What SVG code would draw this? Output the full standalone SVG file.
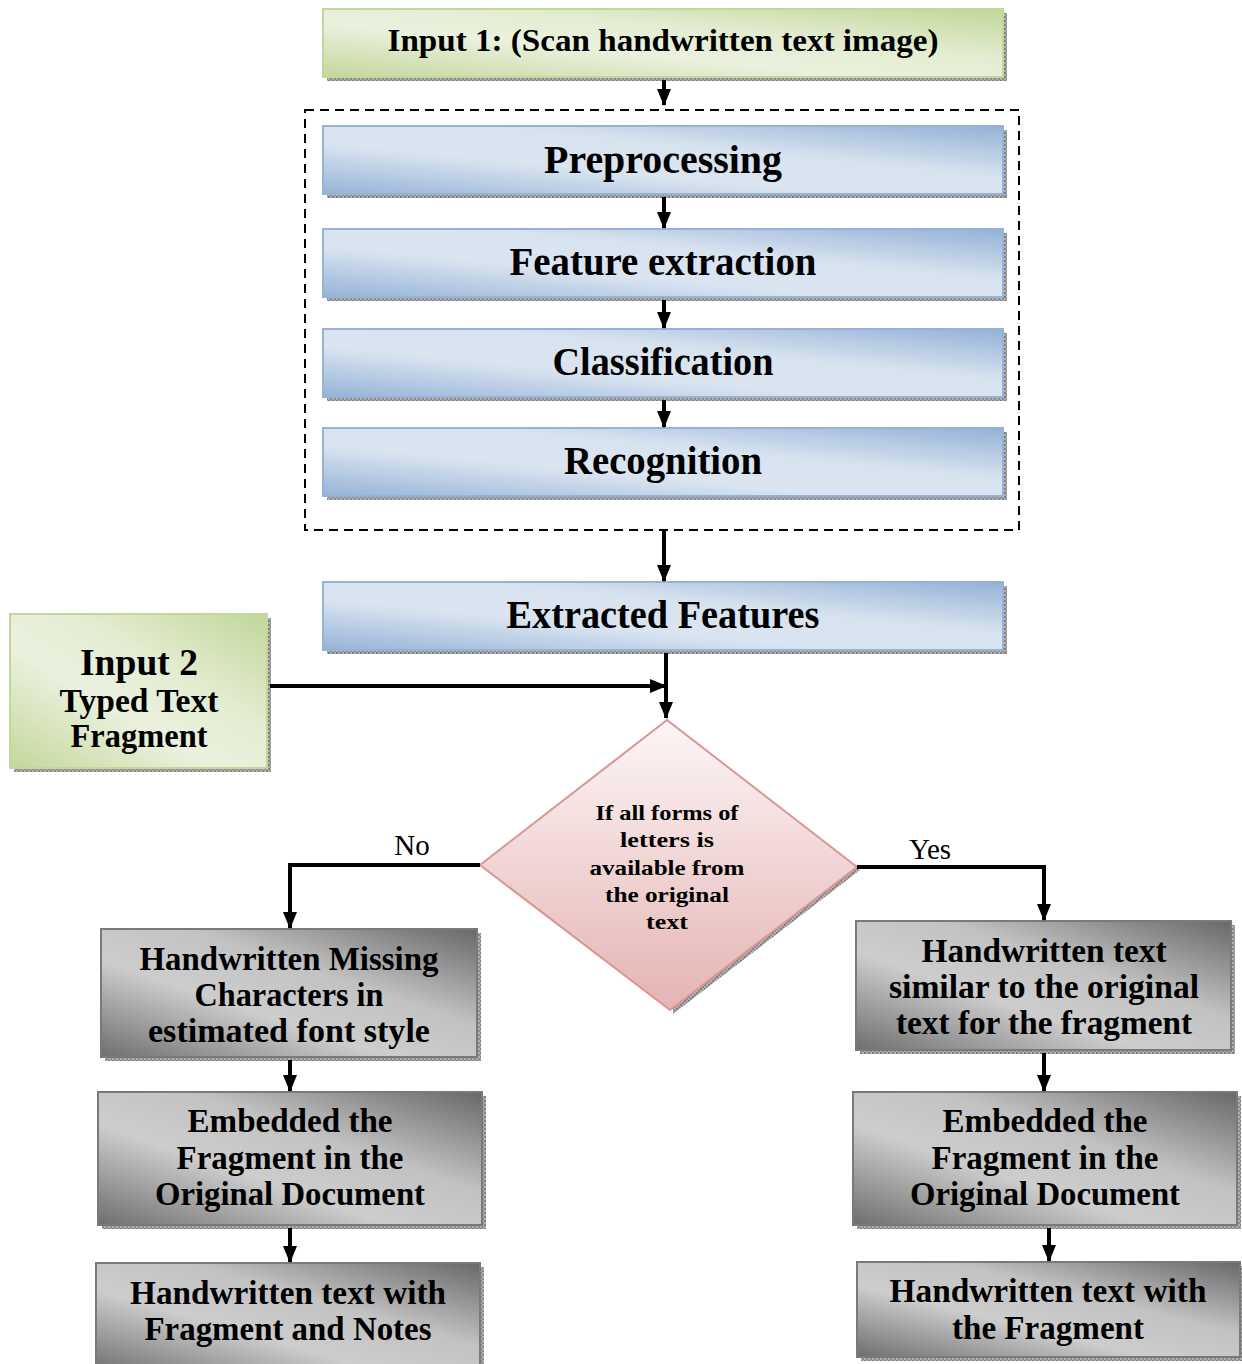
<svg xmlns="http://www.w3.org/2000/svg" width="1242" height="1364" viewBox="0 0 1242 1364">
  <defs>
    <linearGradient id="gGreen" x1="0" y1="1" x2="1" y2="0">
      <stop offset="0" stop-color="#c4d79b"/>
      <stop offset="0.4" stop-color="#ebf1de"/>
      <stop offset="0.62" stop-color="#e4edd2"/>
      <stop offset="1" stop-color="#c2d699"/>
    </linearGradient>
    <linearGradient id="gBlue" x1="0" y1="1" x2="1" y2="0">
      <stop offset="0" stop-color="#95b3d7"/>
      <stop offset="0.38" stop-color="#dbe5f1"/>
      <stop offset="0.62" stop-color="#d8e3f0"/>
      <stop offset="1" stop-color="#93b1d6"/>
    </linearGradient>
    <linearGradient id="gGray" x1="0" y1="1" x2="1" y2="0">
      <stop offset="0" stop-color="#6e6e6e"/>
      <stop offset="0.38" stop-color="#cdcdcd"/>
      <stop offset="0.62" stop-color="#c2c2c2"/>
      <stop offset="1" stop-color="#686868"/>
    </linearGradient>
    <linearGradient id="gPink" x1="0" y1="0" x2="0" y2="1">
      <stop offset="0" stop-color="#fdf6f6"/>
      <stop offset="1" stop-color="#e4b4b3"/>
    </linearGradient>
    <pattern id="shade" width="4" height="4" patternUnits="userSpaceOnUse">
      <rect width="4" height="4" fill="#b0b0b0"/>
      <rect width="2" height="2" fill="#7f7f7f"/>
      <rect x="2" y="2" width="2" height="2" fill="#8c8c8c"/>
    </pattern>
    <marker id="arrow" markerUnits="userSpaceOnUse" markerWidth="18" markerHeight="18" refX="16" refY="9" orient="auto">
      <path d="M0,2 L17,9 L0,16 Z" fill="#000"/>
    </marker>
  </defs>
  <style>
    .t { font-family: "Liberation Serif", "Times New Roman", serif; font-weight: bold; fill: #000; text-anchor: middle; }
    .lbl { font-family: "Liberation Serif", "Times New Roman", serif; fill: #000; font-size: 29px; text-anchor: middle; }
    .shadow { fill: url(#shade); }
    .green { fill: url(#gGreen); stroke: #c3d69b; stroke-width: 2; }
    .blue { fill: url(#gBlue); stroke: #95b3d7; stroke-width: 2; }
    .gray { fill: url(#gGray); stroke: #7a7a7a; stroke-width: 2; }
    .conn { fill: none; stroke: #000; stroke-width: 4; }
  </style>

  <rect x="0" y="0" width="1242" height="1364" fill="#fff"/>

  <!-- dashed frame around the recognition stages -->
  <rect id="stage-frame" x="305" y="110" width="714" height="420" fill="none" stroke="#000" stroke-width="2" stroke-dasharray="9,6"/>

  <g id="input1">
    <rect class="shadow" x="327" y="13" width="680" height="68"/>
    <rect class="green" x="323" y="9" width="680" height="68"/>
    <text class="t" x="663" y="51" font-size="32" textLength="551" lengthAdjust="spacingAndGlyphs">Input 1: (Scan handwritten text image)</text>
  </g>

  <g id="preprocessing">
    <rect class="shadow" x="327" y="130" width="680" height="68"/>
    <rect class="blue" x="323" y="126" width="680" height="68"/>
    <text class="t" x="663" y="173" font-size="40" textLength="238" lengthAdjust="spacingAndGlyphs">Preprocessing</text>
  </g>

  <g id="feature-extraction">
    <rect class="shadow" x="327" y="233" width="680" height="68"/>
    <rect class="blue" x="323" y="229" width="680" height="68"/>
    <text class="t" x="663" y="275" font-size="40" textLength="307" lengthAdjust="spacingAndGlyphs">Feature extraction</text>
  </g>

  <g id="classification">
    <rect class="shadow" x="327" y="333" width="680" height="68"/>
    <rect class="blue" x="323" y="329" width="680" height="68"/>
    <text class="t" x="663" y="375" font-size="40" textLength="221" lengthAdjust="spacingAndGlyphs">Classification</text>
  </g>

  <g id="recognition">
    <rect class="shadow" x="327" y="432" width="680" height="68"/>
    <rect class="blue" x="323" y="428" width="680" height="68"/>
    <text class="t" x="663" y="474" font-size="40" textLength="198" lengthAdjust="spacingAndGlyphs">Recognition</text>
  </g>

  <g id="extracted-features">
    <rect class="shadow" x="327" y="586" width="680" height="68"/>
    <rect class="blue" x="323" y="582" width="680" height="68"/>
    <text class="t" x="663" y="628" font-size="40" textLength="313" lengthAdjust="spacingAndGlyphs">Extracted Features</text>
  </g>

  <g id="input2">
    <rect class="shadow" x="14" y="618" width="257" height="154"/>
    <rect class="green" x="10" y="614" width="257" height="154"/>
    <text class="t" x="139" y="675" font-size="38" textLength="118" lengthAdjust="spacingAndGlyphs">Input 2</text>
    <text class="t" x="139" y="712" font-size="33" textLength="159" lengthAdjust="spacingAndGlyphs">Typed Text</text>
    <text class="t" x="139" y="747" font-size="33" textLength="137" lengthAdjust="spacingAndGlyphs">Fragment</text>
  </g>

  <g id="decision">
    <path d="M670,723 L860,870 L673,1014 Z" fill="url(#shade)"/>
    <path d="M667,720 L857,867 L670,1010 L480,865 Z" fill="url(#gPink)" stroke="#d99694" stroke-width="2"/>
    <text class="t" x="667" y="820" font-size="22" textLength="143" lengthAdjust="spacingAndGlyphs">If all forms of</text>
    <text class="t" x="667" y="847" font-size="22" textLength="94" lengthAdjust="spacingAndGlyphs">letters is</text>
    <text class="t" x="667" y="875" font-size="22" textLength="155" lengthAdjust="spacingAndGlyphs">available from</text>
    <text class="t" x="667" y="902" font-size="22" textLength="124" lengthAdjust="spacingAndGlyphs">the original</text>
    <text class="t" x="667" y="929" font-size="22" textLength="42" lengthAdjust="spacingAndGlyphs">text</text>
  </g>

  <g id="missing-characters">
    <rect class="shadow" x="105" y="933" width="376" height="128"/>
    <rect class="gray" x="101" y="929" width="376" height="128"/>
    <text class="t" x="289" y="970" font-size="33" textLength="299" lengthAdjust="spacingAndGlyphs">Handwritten Missing</text>
    <text class="t" x="289" y="1006" font-size="33" textLength="189" lengthAdjust="spacingAndGlyphs">Characters in</text>
    <text class="t" x="289" y="1042" font-size="33" textLength="282" lengthAdjust="spacingAndGlyphs">estimated font style</text>
  </g>

  <g id="embed-left">
    <rect class="shadow" x="102" y="1096" width="384" height="133"/>
    <rect class="gray" x="98" y="1092" width="384" height="133"/>
    <text class="t" x="290" y="1132" font-size="33" textLength="205" lengthAdjust="spacingAndGlyphs">Embedded the</text>
    <text class="t" x="290" y="1169" font-size="33" textLength="227" lengthAdjust="spacingAndGlyphs">Fragment in the</text>
    <text class="t" x="290" y="1205" font-size="33" textLength="270" lengthAdjust="spacingAndGlyphs">Original Document</text>
  </g>

  <g id="result-notes">
    <rect class="shadow" x="100" y="1267" width="384" height="110"/>
    <rect class="gray" x="96" y="1263" width="384" height="110"/>
    <text class="t" x="288" y="1304" font-size="33" textLength="316" lengthAdjust="spacingAndGlyphs">Handwritten text with</text>
    <text class="t" x="288" y="1340" font-size="33" textLength="287" lengthAdjust="spacingAndGlyphs">Fragment and Notes</text>
  </g>

  <g id="similar-text">
    <rect class="shadow" x="860" y="925" width="375" height="129"/>
    <rect class="gray" x="856" y="921" width="375" height="129"/>
    <text class="t" x="1044" y="962" font-size="33" textLength="245" lengthAdjust="spacingAndGlyphs">Handwritten text</text>
    <text class="t" x="1044" y="998" font-size="33" textLength="310" lengthAdjust="spacingAndGlyphs">similar to the original</text>
    <text class="t" x="1044" y="1034" font-size="33" textLength="296" lengthAdjust="spacingAndGlyphs">text for the fragment</text>
  </g>

  <g id="embed-right">
    <rect class="shadow" x="857" y="1096" width="384" height="133"/>
    <rect class="gray" x="853" y="1092" width="384" height="133"/>
    <text class="t" x="1045" y="1132" font-size="33" textLength="205" lengthAdjust="spacingAndGlyphs">Embedded the</text>
    <text class="t" x="1045" y="1169" font-size="33" textLength="227" lengthAdjust="spacingAndGlyphs">Fragment in the</text>
    <text class="t" x="1045" y="1205" font-size="33" textLength="270" lengthAdjust="spacingAndGlyphs">Original Document</text>
  </g>

  <g id="result-fragment">
    <rect class="shadow" x="861" y="1266" width="383" height="95"/>
    <rect class="gray" x="857" y="1262" width="383" height="95"/>
    <text class="t" x="1048" y="1302" font-size="33" textLength="317" lengthAdjust="spacingAndGlyphs">Handwritten text with</text>
    <text class="t" x="1048" y="1339" font-size="33" textLength="192" lengthAdjust="spacingAndGlyphs">the Fragment</text>
  </g>

  <g id="connectors">
    <line class="conn" x1="664" y1="80" x2="664" y2="105" marker-end="url(#arrow)"/>
    <line class="conn" x1="664" y1="197" x2="664" y2="228" marker-end="url(#arrow)"/>
    <line class="conn" x1="664" y1="300" x2="664" y2="328" marker-end="url(#arrow)"/>
    <line class="conn" x1="664" y1="400" x2="664" y2="427" marker-end="url(#arrow)"/>
    <line class="conn" x1="664" y1="531" x2="664" y2="581" marker-end="url(#arrow)"/>
    <line class="conn" x1="666" y1="653" x2="666" y2="718" marker-end="url(#arrow)"/>
    <line class="conn" x1="270" y1="686" x2="666" y2="686" marker-end="url(#arrow)"/>
    <polyline class="conn" points="480,865 290,865 290,928" marker-end="url(#arrow)"/>
    <polyline class="conn" points="857,867 1044,867 1044,920" marker-end="url(#arrow)"/>
    <line class="conn" x1="290" y1="1060" x2="290" y2="1091" marker-end="url(#arrow)"/>
    <line class="conn" x1="290" y1="1228" x2="290" y2="1262" marker-end="url(#arrow)"/>
    <line class="conn" x1="1044" y1="1053" x2="1044" y2="1091" marker-end="url(#arrow)"/>
    <line class="conn" x1="1049" y1="1228" x2="1049" y2="1261" marker-end="url(#arrow)"/>
    <text class="lbl" x="412" y="855">No</text>
    <text class="lbl" x="930" y="859">Yes</text>
  </g>
</svg>
